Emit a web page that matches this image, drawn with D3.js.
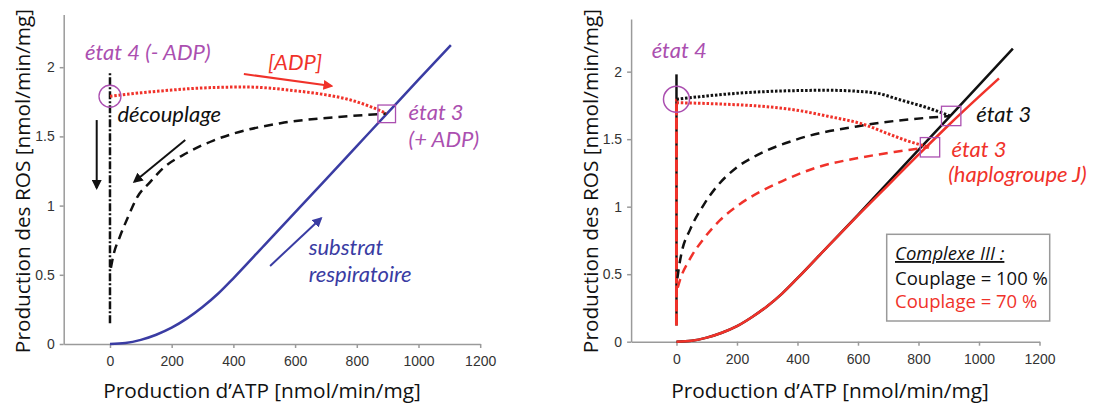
<!DOCTYPE html>
<html>
<head>
<meta charset="utf-8">
<script src="https://cdn.jsdelivr.net/npm/d3@7"></script>
<style>
body { margin: 0; background: #fff; }
svg { display: block; font-family: "Open Sans", Lato, sans-serif; }
.axis path, .axis line { stroke: #9a9a9a; stroke-width: 1.5; }
.axis text { font-family: "Liberation Sans", Arial, sans-serif; font-size: 14px; fill: #333; }
.note { font-family: Lato, "Open Sans", sans-serif; }
</style>
</head>
<body>
<svg id="chart" width="1100" height="404"></svg>
<script>
// ---- data ----
var xTicks = [0, 200, 400, 600, 800, 1000, 1200];
var yTicks = [0, 0.5, 1, 1.5, 2];

// left panel
var substratA = [[0,0],[50,0.007],[100,0.03],[150,0.067],[200,0.118],[250,0.185],[300,0.267],[350,0.363],
                 [400,0.475],[500,0.713],[600,0.951],[700,1.19],[800,1.43],[900,1.67],[1000,1.91],[1105,2.16]];
var decouplageA = [[3,0.55],[11,0.64],[32,0.775],[59,0.92],[88,1.06],[130,1.17],[172,1.27],[249,1.38],
                   [335,1.47],[400,1.52],[553,1.595],[780,1.647],[895,1.665]];
var adpA = [[0,1.79],[100,1.815],[200,1.835],[300,1.85],[440,1.857],[600,1.83],[700,1.8],[780,1.763],
            [850,1.71],[895,1.667]];
var etat4A = [[0,0.15],[0,1.97]];
var circleA = [0, 1.79];
var squareA = [897, 1.663];

// right panel
var couplage100 = [[0,0],[50,0.007],[100,0.03],[150,0.066],[200,0.115],[250,0.183],[300,0.263],[350,0.358],
                   [400,0.47],[500,0.705],[600,0.94],[700,1.18],[800,1.42],[900,1.66],[1000,1.90],[1112,2.17]];
var couplage70 = [[0,0],[50,0.007],[100,0.03],[150,0.066],[200,0.115],[250,0.183],[300,0.263],[350,0.358],
                  [400,0.47],[500,0.705],[600,0.935],[700,1.16],[800,1.385],[900,1.605],[1000,1.815],[1066,1.95]];
var decouplage100 = [[3,0.47],[8,0.55],[17,0.66],[45,0.83],[89,1.01],[130,1.14],[199,1.29],[265,1.38],
                     [393,1.495],[625,1.605],[904,1.672]];
var decouplage70 = [[4,0.40],[12,0.46],[45,0.615],[88,0.757],[144,0.90],[210,1.02],[276,1.11],[350,1.19],
                    [463,1.29],[600,1.36],[720,1.405],[834,1.44]];
var adp100 = [[0,1.795],[100,1.82],[200,1.84],[350,1.857],[500,1.862],[650,1.845],[741,1.79],[834,1.729],[905,1.672]];
var adp70 = [[0,1.77],[150,1.76],[300,1.74],[393,1.716],[500,1.67],[625,1.605],[695,1.544],[760,1.49],[835,1.44]];
var etat4B100 = [[0,0.12],[0,1.98]];
var etat4B70 = [[0,0.12],[0,1.80]];
var circleB = [0, 1.795];
var squaresB = [[908, 1.672], [838, 1.44]];

// ---- colours ----
var purple = '#ab4fb0', red = '#f0322a', blue = '#3a3ca3', black = '#111';

var svg = d3.select('#chart');
var defs = svg.append('defs');

function arrowMarker(id, color) {
    defs.append('marker')
        .attr('id', id)
        .attr('viewBox', '0 0 10 10')
        .attr('refX', 8).attr('refY', 5)
        .attr('markerWidth', 5).attr('markerHeight', 5)
        .attr('orient', 'auto')
        .append('path')
        .attr('d', 'M0,0L10,5L0,10z')
        .attr('fill', color);
}
arrowMarker('arr-black', black);
arrowMarker('arr-red', red);
arrowMarker('arr-blue', blue);

function drawAxes(x, y) {
    svg.append('g').attr('class', 'axis')
        .attr('transform', 'translate(0,' + y(0) + ')')
        .call(d3.axisBottom(x).tickValues(xTicks).tickFormat(d3.format('d'))
            .tickSize(4).tickSizeOuter(0).tickPadding(8));
    svg.append('g').attr('class', 'axis')
        .attr('transform', 'translate(' + x(-150) + ',0)')
        .call(d3.axisLeft(y).tickValues(yTicks).tickFormat(d3.format(''))
            .tickSize(4).tickSizeOuter(0).tickPadding(5));
}

function line(x, y, curve) {
    return d3.line()
        .x(function(d) { return x(d[0]); })
        .y(function(d) { return y(d[1]); })
        .curve(curve || d3.curveMonotoneX);
}

function path(data, gen, color, width, dash) {
    svg.append('path')
        .datum(data)
        .attr('d', gen)
        .attr('fill', 'none')
        .attr('stroke', color)
        .attr('stroke-width', width)
        .attr('stroke-dasharray', dash || null);
}

function arrow(x, y, from, to, color, marker) {
    svg.append('line')
        .attr('x1', x(from[0])).attr('y1', y(from[1]))
        .attr('x2', x(to[0])).attr('y2', y(to[1]))
        .attr('stroke', color).attr('stroke-width', 2)
        .attr('marker-end', 'url(#' + marker + ')');
}

function label(x, y, pos, text, color) {
    svg.append('text')
        .attr('class', 'note')
        .attr('x', x(pos[0])).attr('y', y(pos[1]))
        .attr('fill', color)
        .style('font-size', '22px')
        .style('font-style', 'italic')
        .text(text);
}

function titles(cx, cy, yx) {
    svg.append('text')
        .attr('x', cx).attr('y', 398)
        .attr('text-anchor', 'middle')
        .style('font-size', '20.8px').attr('fill', '#111')
        .text('Production d’ATP [nmol/min/mg]');
    svg.append('text')
        .attr('transform', 'translate(' + yx + ',' + cy + ') rotate(-90)')
        .attr('text-anchor', 'middle')
        .style('font-size', '20.8px').attr('fill', '#111')
        .text('Production des ROS [nmol/min/mg]');
}

// ---- left panel ----
var xA = d3.scaleLinear().domain([-150, 1200]).range([63.7, 480.2]);
var yA = d3.scaleLinear().domain([0, 2.38]).range([344, 14.6]);
drawAxes(xA, yA);
titles(262, 181, 30);

path(substratA, line(xA, yA), blue, 2.5);
path(etat4A, line(xA, yA, d3.curveLinear), black, 2.5, '8,2,2,2');
path(decouplageA, line(xA, yA), black, 2.5, '9,6');
path(adpA, line(xA, yA), red, 3, '2.5,1.8');

svg.append('circle')
    .attr('cx', xA(circleA[0])).attr('cy', yA(circleA[1])).attr('r', 11)
    .attr('fill', 'none').attr('stroke', purple).attr('stroke-width', 1.3);
svg.append('rect')
    .attr('x', xA(squareA[0]) - 8.8).attr('y', yA(squareA[1]) - 8.8)
    .attr('width', 17.6).attr('height', 17.6)
    .attr('fill', 'none').attr('stroke', purple).attr('stroke-width', 1.3);

arrow(xA, yA, [434, 1.951], [718, 1.864], red, 'arr-red');
arrow(xA, yA, [244, 1.474], [79, 1.173], black, 'arr-black');
arrow(xA, yA, [-43, 1.618], [-43, 1.127], black, 'arr-black');
arrow(xA, yA, [519, 0.564], [684, 0.908], blue, 'arr-blue');

label(xA, yA, [-81, 2.052], 'état 4 (- ADP)', purple);
label(xA, yA, [512, 1.98], '[ADP]', red);
label(xA, yA, [24, 1.606], 'découplage', black);
label(xA, yA, [968, 1.618], 'état 3', purple);
label(xA, yA, [968, 1.426], '(+ ADP)', purple);
label(xA, yA, [644, 0.643], 'substrat', blue);
label(xA, yA, [644, 0.45], 'respiratoire', blue);

// ---- right panel ----
var xB = d3.scaleLinear().domain([-150, 1200]).range([631.1, 1039.5]);
var yB = d3.scaleLinear().domain([0, 2.39]).range([341.7, 19]);
drawAxes(xB, yB);
titles(830, 181, 598);

path(couplage100, line(xB, yB), black, 2.5);
path(couplage70, line(xB, yB), red, 2.5);
path(etat4B100, line(xB, yB, d3.curveLinear), black, 2.5);
path(etat4B70, line(xB, yB, d3.curveLinear), red, 3, '12,2');
path(decouplage100, line(xB, yB), black, 2.5, '9,6');
path(decouplage70, line(xB, yB), red, 2.5, '9,6');
path(adp100, line(xB, yB), black, 3, '2.5,1.8');
path(adp70, line(xB, yB), red, 3, '2.5,1.8');

svg.append('circle')
    .attr('cx', xB(circleB[0])).attr('cy', yB(circleB[1])).attr('r', 13)
    .attr('fill', 'none').attr('stroke', purple).attr('stroke-width', 1.5);
svg.selectAll('rect.stateB')
    .data(squaresB)
    .join('rect')
    .attr('class', 'stateB')
    .attr('x', function(d) { return xB(d[0]) - 9.7; })
    .attr('y', function(d) { return yB(d[1]) - 9.7; })
    .attr('width', 19.4).attr('height', 19.4)
    .attr('fill', 'none').attr('stroke', purple).attr('stroke-width', 1.3);

label(xB, yB, [-82, 2.10], 'état 4', purple);
label(xB, yB, [991, 1.63], 'état 3', black);
label(xB, yB, [909, 1.37], 'état 3', red);
label(xB, yB, [898, 1.185], '(haplogroupe J)', red);

// legend box
var legend = svg.append('g');
legend.append('rect')
    .attr('x', 886.7).attr('y', 234.3).attr('width', 163).attr('height', 86.7)
    .attr('fill', '#fff').attr('stroke', '#9a9a9a').attr('stroke-width', 1.5);
legend.append('text').attr('x', 895).attr('y', 260)
    .style('font-size', '18.5px').style('font-style', 'italic')
    .style('text-decoration', 'underline').attr('fill', black)
    .text('Complexe III :');
legend.append('text').attr('x', 895).attr('y', 285)
    .style('font-size', '18.5px').attr('fill', black)
    .text('Couplage = 100 %');
legend.append('text').attr('x', 895).attr('y', 308.3)
    .style('font-size', '18.5px').attr('fill', red)
    .text('Couplage = 70 %');
</script>
</body>
</html>
